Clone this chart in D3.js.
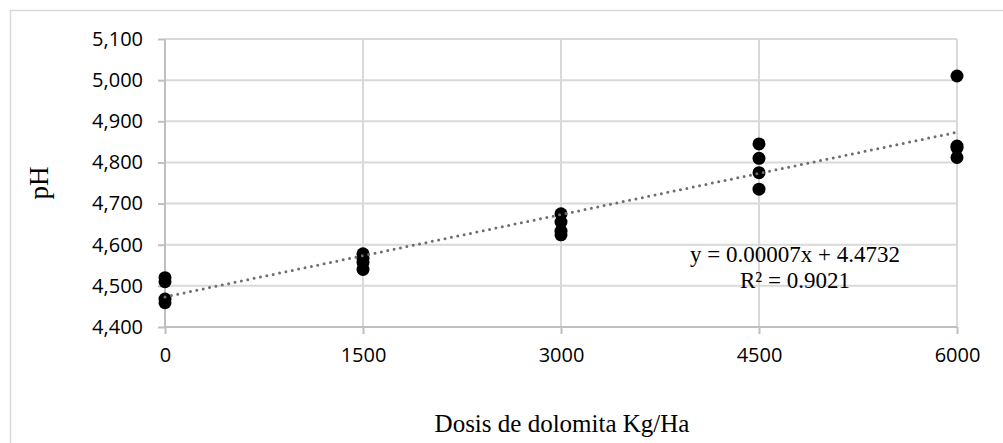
<!DOCTYPE html>
<html>
<head>
<meta charset="utf-8">
<script src="https://cdn.jsdelivr.net/npm/d3@7"></script>
<style>
  body { margin: 0; background: #fff; }
  svg { display: block; }
</style>
</head>
<body>
<svg id="chart"></svg>
<script>
const doses = [0, 0, 0, 0, 1500, 1500, 1500, 1500, 3000, 3000, 3000, 3000, 4500, 4500, 4500, 4500, 6000, 6000, 6000, 6000]
const phValues = [4.52, 4.51, 4.468, 4.459, 4.578, 4.567, 4.557, 4.54, 4.675, 4.655, 4.633, 4.624, 4.845, 4.81, 4.775, 4.735, 5.01, 4.84, 4.835, 4.812]

// ticks
const xTicks = [0, 1500, 3000, 4500, 6000]
const yTicks = [4.4, 4.5, 4.6, 4.7, 4.8, 4.9, 5.0, 5.1]
const yTickLabels = ["4,400", "4,500", "4,600", "4,700", "4,800", "4,900", "5,000", "5,100"]

// linear trend (Excel style)
const trendSlope = 0.0000667
const trendIntercept = 4.4732
const trendText = ["y = 0.00007x + 4.4732", "R² = 0.9021"]

const width = 1003, height = 443
const marginLeft = 165, marginRight = 46, marginTop = 39, marginBottom = 116

const svg = d3.select("#chart")
    .attr("width", width)
    .attr("height", height)
    .attr("viewBox", [0, 0, width, height])

// outer chart border
svg.append("rect")
    .attr("x", 10.5).attr("y", 10.5)
    .attr("width", 1020).attr("height", 460)
    .attr("fill", "none")
    .attr("stroke", "#d9d9d9")
    .attr("stroke-width", 1.5)

const x = d3.scaleLinear([0, 6000], [marginLeft, width - marginRight])
const y = d3.scaleLinear([4.4, 5.1], [height - marginBottom, marginTop])

// grid lines
svg.append("g")
  .selectAll("line")
  .data(yTicks.slice(1))
  .join("line")
    .attr("x1", x(0)).attr("x2", x(6000))
    .attr("y1", d => y(d)).attr("y2", d => y(d))
    .attr("stroke", "#d9d9d9")
    .attr("stroke-width", 2)

svg.append("g")
  .selectAll("line")
  .data(xTicks.slice(1))
  .join("line")
    .attr("x1", d => x(d)).attr("x2", d => x(d))
    .attr("y1", y(5.1)).attr("y2", y(4.4))
    .attr("stroke", "#d9d9d9")
    .attr("stroke-width", 2)

// y axis
const yAxis = d3.axisLeft(y)
    .tickValues(yTicks)
    .tickFormat((d, i) => yTickLabels[i])
    .tickSize(7)
    .tickPadding(15)

svg.append("g")
    .attr("transform", `translate(${x(0)},0)`)
    .call(yAxis)
    .call(g => g.select(".domain").attr("stroke", "#bfbfbf").attr("stroke-width", 2).attr("d", `M0,${y(5.1)}V${y(4.4)}`))
    .call(g => g.selectAll(".tick line").attr("stroke", "#bfbfbf").attr("stroke-width", 2))
    .call(g => g.selectAll(".tick text")
        .attr("font-family", "'Open Sans', sans-serif")
        .attr("font-size", 20)
        .attr("fill", "#000"))

// x axis
const xAxis = d3.axisBottom(x)
    .tickValues(xTicks)
    .tickFormat(d3.format("d"))
    .tickSize(7)
    .tickPadding(14)

svg.append("g")
    .attr("transform", `translate(0,${y(4.4)})`)
    .call(xAxis)
    .call(g => g.select(".domain").attr("stroke", "#bfbfbf").attr("stroke-width", 2).attr("d", `M${x(0)},0H${x(6000)}`))
    .call(g => g.selectAll(".tick line").attr("stroke", "#bfbfbf").attr("stroke-width", 2))
    .call(g => g.selectAll(".tick text")
        .attr("font-family", "'Open Sans', sans-serif")
        .attr("font-size", 20)
        .attr("fill", "#000"))

// points
svg.append("g")
  .selectAll("circle")
  .data(d3.range(doses.length))
  .join("circle")
    .attr("cx", i => x(doses[i]))
    .attr("cy", i => y(phValues[i]))
    .attr("r", 6.5)
    .attr("fill", "#000")

// trend line (dotted)
const trendX = [0, 6000]
svg.append("path")
    .attr("d", d3.line()(trendX.map(d => [x(d), y(trendIntercept + trendSlope * d)])))
    .attr("fill", "none")
    .attr("stroke", "#6e6e6e")
    .attr("stroke-width", 3)
    .attr("stroke-linecap", "round")
    .attr("stroke-dasharray", "0,6.5")

// equation label
svg.append("g")
    .attr("font-family", "'Liberation Serif', 'Times New Roman', serif")
    .attr("font-size", 23)
    .attr("text-anchor", "middle")
  .selectAll("text")
  .data(trendText)
  .join("text")
    .attr("x", 795)
    .attr("y", (d, i) => 262 + i * 26)
    .text(d => d)

// axis titles
svg.append("text")
    .attr("x", 562)
    .attr("y", 432)
    .attr("text-anchor", "middle")
    .attr("font-family", "'Liberation Serif', 'Times New Roman', serif")
    .attr("font-size", 25)
    .text("Dosis de dolomita Kg/Ha")

svg.append("text")
    .attr("transform", "translate(48,183) rotate(-90)")
    .attr("text-anchor", "middle")
    .attr("font-family", "'Liberation Serif', 'Times New Roman', serif")
    .attr("font-size", 27)
    .text("pH")
</script>
</body>
</html>
